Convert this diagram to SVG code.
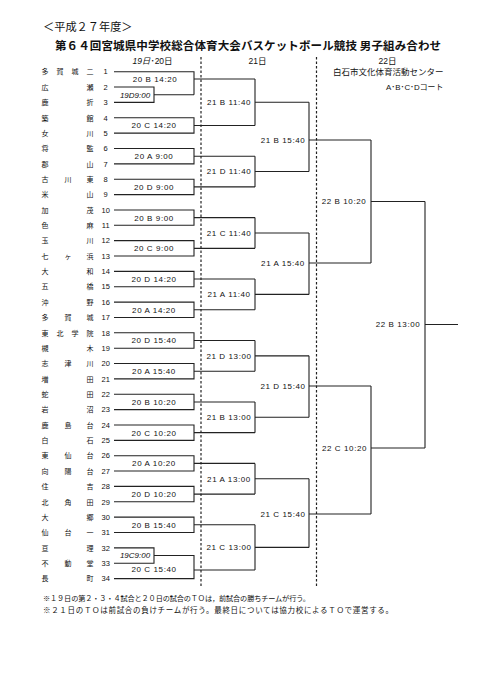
<svg xmlns="http://www.w3.org/2000/svg" width="481" height="680" viewBox="0 0 481 680">
<style>
.jp{font-family:"Noto Sans CJK JP","Noto Sans CJK SC",sans-serif;fill:#111}
.lat{font-family:"Liberation Sans","Noto Sans CJK JP",sans-serif;fill:#111}
.nm{font-family:"Noto Sans CJK JP",sans-serif;font-size:7px;text-anchor:middle;fill:#111}
.no{font-family:"Liberation Sans",sans-serif;font-size:7.5px;text-anchor:middle;fill:#111}
.lb{font-family:"Liberation Sans",sans-serif;font-size:8px;letter-spacing:0.6px;text-anchor:middle;fill:#111}
.it{font-family:"Liberation Sans",sans-serif;font-size:8px;font-style:italic;text-anchor:middle;fill:#111}
.ln{fill:none;stroke:#222;stroke-width:1.1}
.dash{fill:none;stroke:#222;stroke-width:1.2;stroke-dasharray:2.5 2}
</style>
<rect width="481" height="680" fill="#fff"/>
<g id="titles">
<text class="jp" x="43" y="31" font-size="11.2">＜平成２７年度＞</text>
<text class="jp" x="55" y="49.8" font-size="11.5" font-weight="bold" textLength="386" lengthAdjust="spacing">第６４回宮城県中学校総合体育大会バスケットボール競技 男子組み合わせ</text>
</g>
<g id="headers">
<text class="lat" x="152.5" y="63.7" font-size="8.5" text-anchor="middle"><tspan font-style="italic">19日</tspan>･20日</text>
<text class="lat" x="257.5" y="63.7" font-size="8.5" text-anchor="middle">21日</text>
<text class="lat" x="387.5" y="63.7" font-size="8.5" text-anchor="middle">22日</text>
<text class="jp" x="388.3" y="75" font-size="8.5" text-anchor="middle">白石市文化体育活動センター</text>
<text class="lat" x="414.7" y="90.3" font-size="7.9" text-anchor="middle">A･B･C･Dコート</text>
</g>
<g id="connectors">
<path class="dash" d="M201 57V586M316.5 57V586"/>
<path class="ln" d="M114 71.7H194V94.74M114 87.06H154V102.42H114M154 94.74H194M194 79H255"/>
<path class="ln" d="M114 117.78H194V133.14H114M194 125.46H255"/>
<path class="ln" d="M114 148.5H194V163.86H114M194 156.18H255"/>
<path class="ln" d="M114 179.22H194V194.58H114M194 186.9H255"/>
<path class="ln" d="M114 209.94H194V225.3H114M194 217.62H255"/>
<path class="ln" d="M114 240.66H194V256.02H114M194 248.34H255"/>
<path class="ln" d="M114 271.38H194V286.74H114M194 279.06H255"/>
<path class="ln" d="M114 302.1H194V317.46H114M194 309.78H255"/>
<path class="ln" d="M114 332.82H194V348.18H114M194 340.5H255"/>
<path class="ln" d="M114 363.54H194V378.9H114M194 371.22H255"/>
<path class="ln" d="M114 394.26H194V409.62H114M194 401.94H255"/>
<path class="ln" d="M114 424.98H194V440.34H114M194 432.66H255"/>
<path class="ln" d="M114 455.7H194V471.06H114M194 463.38H255"/>
<path class="ln" d="M114 486.42H194V501.78H114M194 494.1H255"/>
<path class="ln" d="M114 517.14H194V532.5H114M194 524.82H255"/>
<path class="ln" d="M114 547.86H154V563.22H114M154 555.54H194V578.58H114M194 570H255"/>
<path class="ln" d="M255 79V125.46M255 102.2H309"/>
<path class="ln" d="M255 156.18V186.9M255 171.54H309"/>
<path class="ln" d="M255 217.62V248.34M255 232.98H309"/>
<path class="ln" d="M255 279.06V309.78M255 294.42H309"/>
<path class="ln" d="M255 340.5V371.22M255 355.86H309"/>
<path class="ln" d="M255 401.94V432.66M255 417.3H309"/>
<path class="ln" d="M255 463.38V494.1M255 478.74H309"/>
<path class="ln" d="M255 524.82V570M255 547.41H309"/>
<path class="ln" d="M309 102.2V171.54M309 140H371"/>
<path class="ln" d="M309 232.98V294.42M309 263H371"/>
<path class="ln" d="M309 355.86V417.3M309 386H371"/>
<path class="ln" d="M309 478.74V547.41M309 514H371"/>
<path class="ln" d="M371 140V263M371 201.5H425"/>
<path class="ln" d="M371 386V514M371 448H425"/>
<path class="ln" d="M425 201.5V448M425 324.5H458"/>
</g>
<g id="team-1"><text class="nm" x="45 60 75 90" y="74.4">多賀城二</text><text class="no" x="105.7" y="74.4">1</text></g>
<g id="team-2"><text class="nm" x="45 90" y="89.8">広瀬</text><text class="no" x="105.7" y="89.8">2</text></g>
<g id="team-3"><text class="nm" x="45 90" y="105.1">鹿折</text><text class="no" x="105.7" y="105.1">3</text></g>
<g id="team-4"><text class="nm" x="45 90" y="120.5">築館</text><text class="no" x="105.7" y="120.5">4</text></g>
<g id="team-5"><text class="nm" x="45 90" y="135.8">女川</text><text class="no" x="105.7" y="135.8">5</text></g>
<g id="team-6"><text class="nm" x="45 90" y="151.2">将監</text><text class="no" x="105.7" y="151.2">6</text></g>
<g id="team-7"><text class="nm" x="45 90" y="166.6">郡山</text><text class="no" x="105.7" y="166.6">7</text></g>
<g id="team-8"><text class="nm" x="45 68 90" y="181.9">古川東</text><text class="no" x="105.7" y="181.9">8</text></g>
<g id="team-9"><text class="nm" x="45 90" y="197.3">米山</text><text class="no" x="105.7" y="197.3">9</text></g>
<g id="team-10"><text class="nm" x="45 90" y="212.6">加茂</text><text class="no" x="105.7" y="212.6">10</text></g>
<g id="team-11"><text class="nm" x="45 90" y="228">色麻</text><text class="no" x="105.7" y="228">11</text></g>
<g id="team-12"><text class="nm" x="45 90" y="243.4">玉川</text><text class="no" x="105.7" y="243.4">12</text></g>
<g id="team-13"><text class="nm" x="45 68 90" y="258.7">七ヶ浜</text><text class="no" x="105.7" y="258.7">13</text></g>
<g id="team-14"><text class="nm" x="45 90" y="274.1">大和</text><text class="no" x="105.7" y="274.1">14</text></g>
<g id="team-15"><text class="nm" x="45 90" y="289.4">五橋</text><text class="no" x="105.7" y="289.4">15</text></g>
<g id="team-16"><text class="nm" x="45 90" y="304.8">沖野</text><text class="no" x="105.7" y="304.8">16</text></g>
<g id="team-17"><text class="nm" x="45 68 90" y="320.2">多賀城</text><text class="no" x="105.7" y="320.2">17</text></g>
<g id="team-18"><text class="nm" x="45 60 75 90" y="335.5">東北学院</text><text class="no" x="105.7" y="335.5">18</text></g>
<g id="team-19"><text class="nm" x="45 90" y="350.9">槻木</text><text class="no" x="105.7" y="350.9">19</text></g>
<g id="team-20"><text class="nm" x="45 68 90" y="366.2">志津川</text><text class="no" x="105.7" y="366.2">20</text></g>
<g id="team-21"><text class="nm" x="45 90" y="381.6">増田</text><text class="no" x="105.7" y="381.6">21</text></g>
<g id="team-22"><text class="nm" x="45 90" y="397">蛇田</text><text class="no" x="105.7" y="397">22</text></g>
<g id="team-23"><text class="nm" x="45 90" y="412.3">岩沼</text><text class="no" x="105.7" y="412.3">23</text></g>
<g id="team-24"><text class="nm" x="45 68 90" y="427.7">鹿島台</text><text class="no" x="105.7" y="427.7">24</text></g>
<g id="team-25"><text class="nm" x="45 90" y="443">白石</text><text class="no" x="105.7" y="443">25</text></g>
<g id="team-26"><text class="nm" x="45 68 90" y="458.4">東仙台</text><text class="no" x="105.7" y="458.4">26</text></g>
<g id="team-27"><text class="nm" x="45 68 90" y="473.8">向陽台</text><text class="no" x="105.7" y="473.8">27</text></g>
<g id="team-28"><text class="nm" x="45 90" y="489.1">住吉</text><text class="no" x="105.7" y="489.1">28</text></g>
<g id="team-29"><text class="nm" x="45 68 90" y="504.5">北角田</text><text class="no" x="105.7" y="504.5">29</text></g>
<g id="team-30"><text class="nm" x="45 90" y="519.8">大郷</text><text class="no" x="105.7" y="519.8">30</text></g>
<g id="team-31"><text class="nm" x="45 68 90" y="535.2">仙台一</text><text class="no" x="105.7" y="535.2">31</text></g>
<g id="team-32"><text class="nm" x="45 90" y="550.6">亘理</text><text class="no" x="105.7" y="550.6">32</text></g>
<g id="team-33"><text class="nm" x="45 68 90" y="565.9">不動堂</text><text class="no" x="105.7" y="565.9">33</text></g>
<g id="team-34"><text class="nm" x="45 90" y="581.3">長町</text><text class="no" x="105.7" y="581.3">34</text></g>
<g id="m-19D"><text class="it" x="135" y="97.6">19D9:00</text></g>
<g id="m-19C"><text class="it" x="135" y="558.4">19C9:00</text></g>
<g id="m-r1">
<text class="lb" x="155" y="81.9">20 B 14:20</text>
<text class="lb" x="154" y="128.4">20 C 14:20</text>
<text class="lb" x="154" y="159.1">20 A 9:00</text>
<text class="lb" x="154" y="189.8">20 D 9:00</text>
<text class="lb" x="154" y="220.5">20 B 9:00</text>
<text class="lb" x="154" y="251.2">20 C 9:00</text>
<text class="lb" x="154" y="282">20 D 14:20</text>
<text class="lb" x="154" y="312.7">20 A 14:20</text>
<text class="lb" x="154" y="343.4">20 D 15:40</text>
<text class="lb" x="154" y="374.1">20 A 15:40</text>
<text class="lb" x="154" y="404.8">20 B 10:20</text>
<text class="lb" x="154" y="435.6">20 C 10:20</text>
<text class="lb" x="154" y="466.3">20 A 10:20</text>
<text class="lb" x="154" y="497">20 D 10:20</text>
<text class="lb" x="154" y="527.7">20 B 15:40</text>
<text class="lb" x="154" y="572.4">20 C 15:40</text>
</g>
<g id="m-r2">
<text class="lb" x="229" y="105.1">21 B 11:40</text>
<text class="lb" x="229" y="174.4">21 D 11:40</text>
<text class="lb" x="229" y="235.9">21 C 11:40</text>
<text class="lb" x="229" y="297.3">21 A 11:40</text>
<text class="lb" x="229" y="358.8">21 D 13:00</text>
<text class="lb" x="229" y="420.2">21 B 13:00</text>
<text class="lb" x="229" y="481.6">21 A 13:00</text>
<text class="lb" x="229" y="550.3">21 C 13:00</text>
</g>
<g id="m-r3">
<text class="lb" x="283" y="142.9">21 B 15:40</text>
<text class="lb" x="283" y="265.9">21 A 15:40</text>
<text class="lb" x="283" y="388.9">21 D 15:40</text>
<text class="lb" x="283" y="516.9">21 C 15:40</text>
</g>
<g id="m-r4">
<text class="lb" x="344" y="204.4">22 B 10:20</text>
<text class="lb" x="344.5" y="450.9">22 C 10:20</text>
</g>
<g id="m-final"><text class="lb" x="398" y="327.4">22 B 13:00</text></g>
<g id="notes">
<text class="jp" x="43" y="601.2" font-size="7.2" fill="#333" textLength="267" lengthAdjust="spacing">※１９日の第２・３・４試合と２０日の試合のＴＯは，前試合の勝ちチームが行う。</text>
<text class="jp" x="43" y="612.9" font-size="7.5" fill="#333" textLength="350" lengthAdjust="spacing">※２１日のＴＯは前試合の負けチームが行う。最終日については協力校によるＴＯで運営する。</text>
</g>
</svg>
